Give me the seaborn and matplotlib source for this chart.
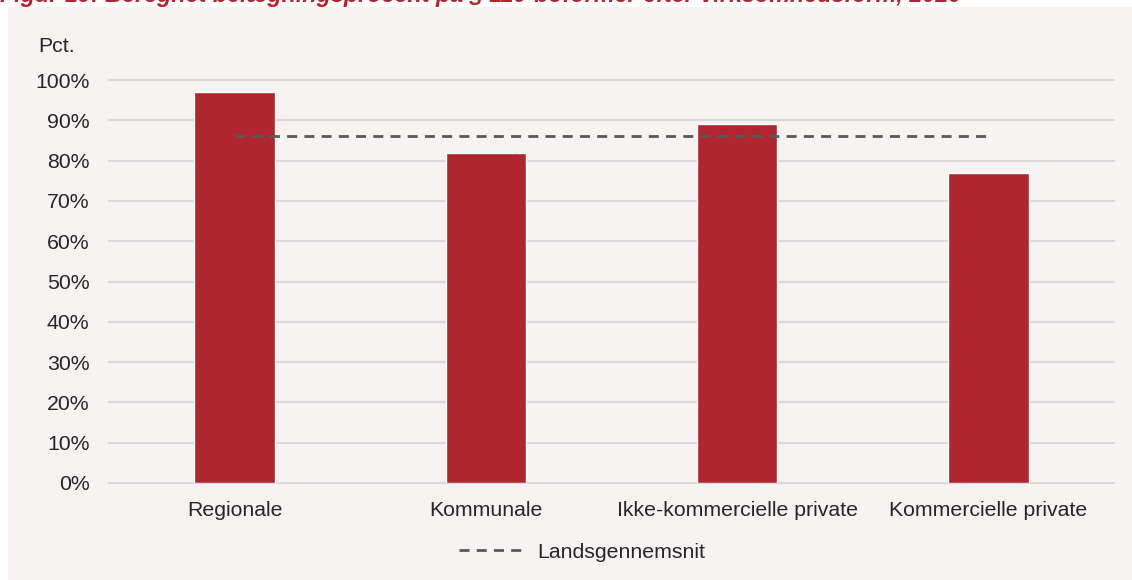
import matplotlib
matplotlib.use("Agg")
import matplotlib.pyplot as plt
from matplotlib.patches import Rectangle
from matplotlib.lines import Line2D
import seaborn as sns
import pandas as pd

# Data
categories = ["Regionale", "Kommunale", "Ikke-kommercielle private", "Kommercielle private"]
values = [97, 82, 89, 77]
national_avg = 86
y_ticks = [0, 10, 20, 30, 40, 50, 60, 70, 80, 90, 100]
title = "Figur 19: Beregnet belægningsprocent på § 110-boformer efter virksomhedsform, 2020"

BAR = "#b0262f"
PANEL = "#f7f3f2"
GRID = "#d9d9d9"
TEXT = "#262626"
DASH = "#595959"
FS = 15.3

sns.set_theme(style="white")
plt.rcParams["font.family"] = ["Liberation Sans", "DejaVu Sans"]

fig = plt.figure(figsize=(11.32, 5.8), dpi=100)
fig.patch.set_facecolor("white")
W, H = 1132, 580

# grey panel behind the chart
fig.patches.append(Rectangle((8 / W, 0), 1 - 8 / W, 1 - 7 / H, transform=fig.transFigure,
                             facecolor=PANEL, edgecolor="none", zorder=0))

# title is cut off at the top in the reference
fig.text(0, 1 - 2 / H, title, color=BAR, fontsize=16.8, fontstyle="italic", fontweight="bold",
         ha="left", va="baseline")

ax = fig.add_axes([109 / W, 1 - 483 / H, (1114 - 109) / W, (483 - 80) / H])
ax.set_zorder(2)
ax.set_facecolor("none")

df = pd.DataFrame({"category": categories, "value": values})
sns.barplot(data=df, x="category", y="value", color=BAR, width=0.32, saturation=1,
            ax=ax, zorder=3)

ax.plot(range(len(categories)), [national_avg] * len(categories), color=DASH,
        linewidth=2, dashes=(3.6, 2.6), zorder=4)

ax.set_ylim(0, 100)
ax.set_xlim(-0.5, len(categories) - 0.5)
ax.set_yticks(y_ticks)
ax.set_yticklabels([f"{t}%" for t in y_ticks])
for t in y_ticks:
    ax.axhline(t, color=GRID, linewidth=1.6, zorder=1, clip_on=False)
ax.tick_params(axis="y", length=0, pad=14, labelsize=FS, labelcolor=TEXT)
ax.tick_params(axis="x", length=0, pad=13, labelsize=FS, labelcolor=TEXT)
ax.set_xlabel("")
ax.set_ylabel("")
sns.despine(ax=ax, left=True, bottom=True)

fig.text(38 / W, 1 - 47 / H, "Pct.", fontsize=FS, color=TEXT, ha="left", va="center")

handle = Line2D([0], [0], color=DASH, linewidth=2, dashes=(3.6, 2.6))
leg = fig.legend([handle], ["Landsgennemsnit"], loc="center", bbox_to_anchor=(582 / W, 1 - 552 / H),
                 frameon=False, fontsize=FS, handlelength=3.0, handletextpad=0.7)
for txt in leg.get_texts():
    txt.set_color(TEXT)

fig.savefig("out.png", dpi=100)
